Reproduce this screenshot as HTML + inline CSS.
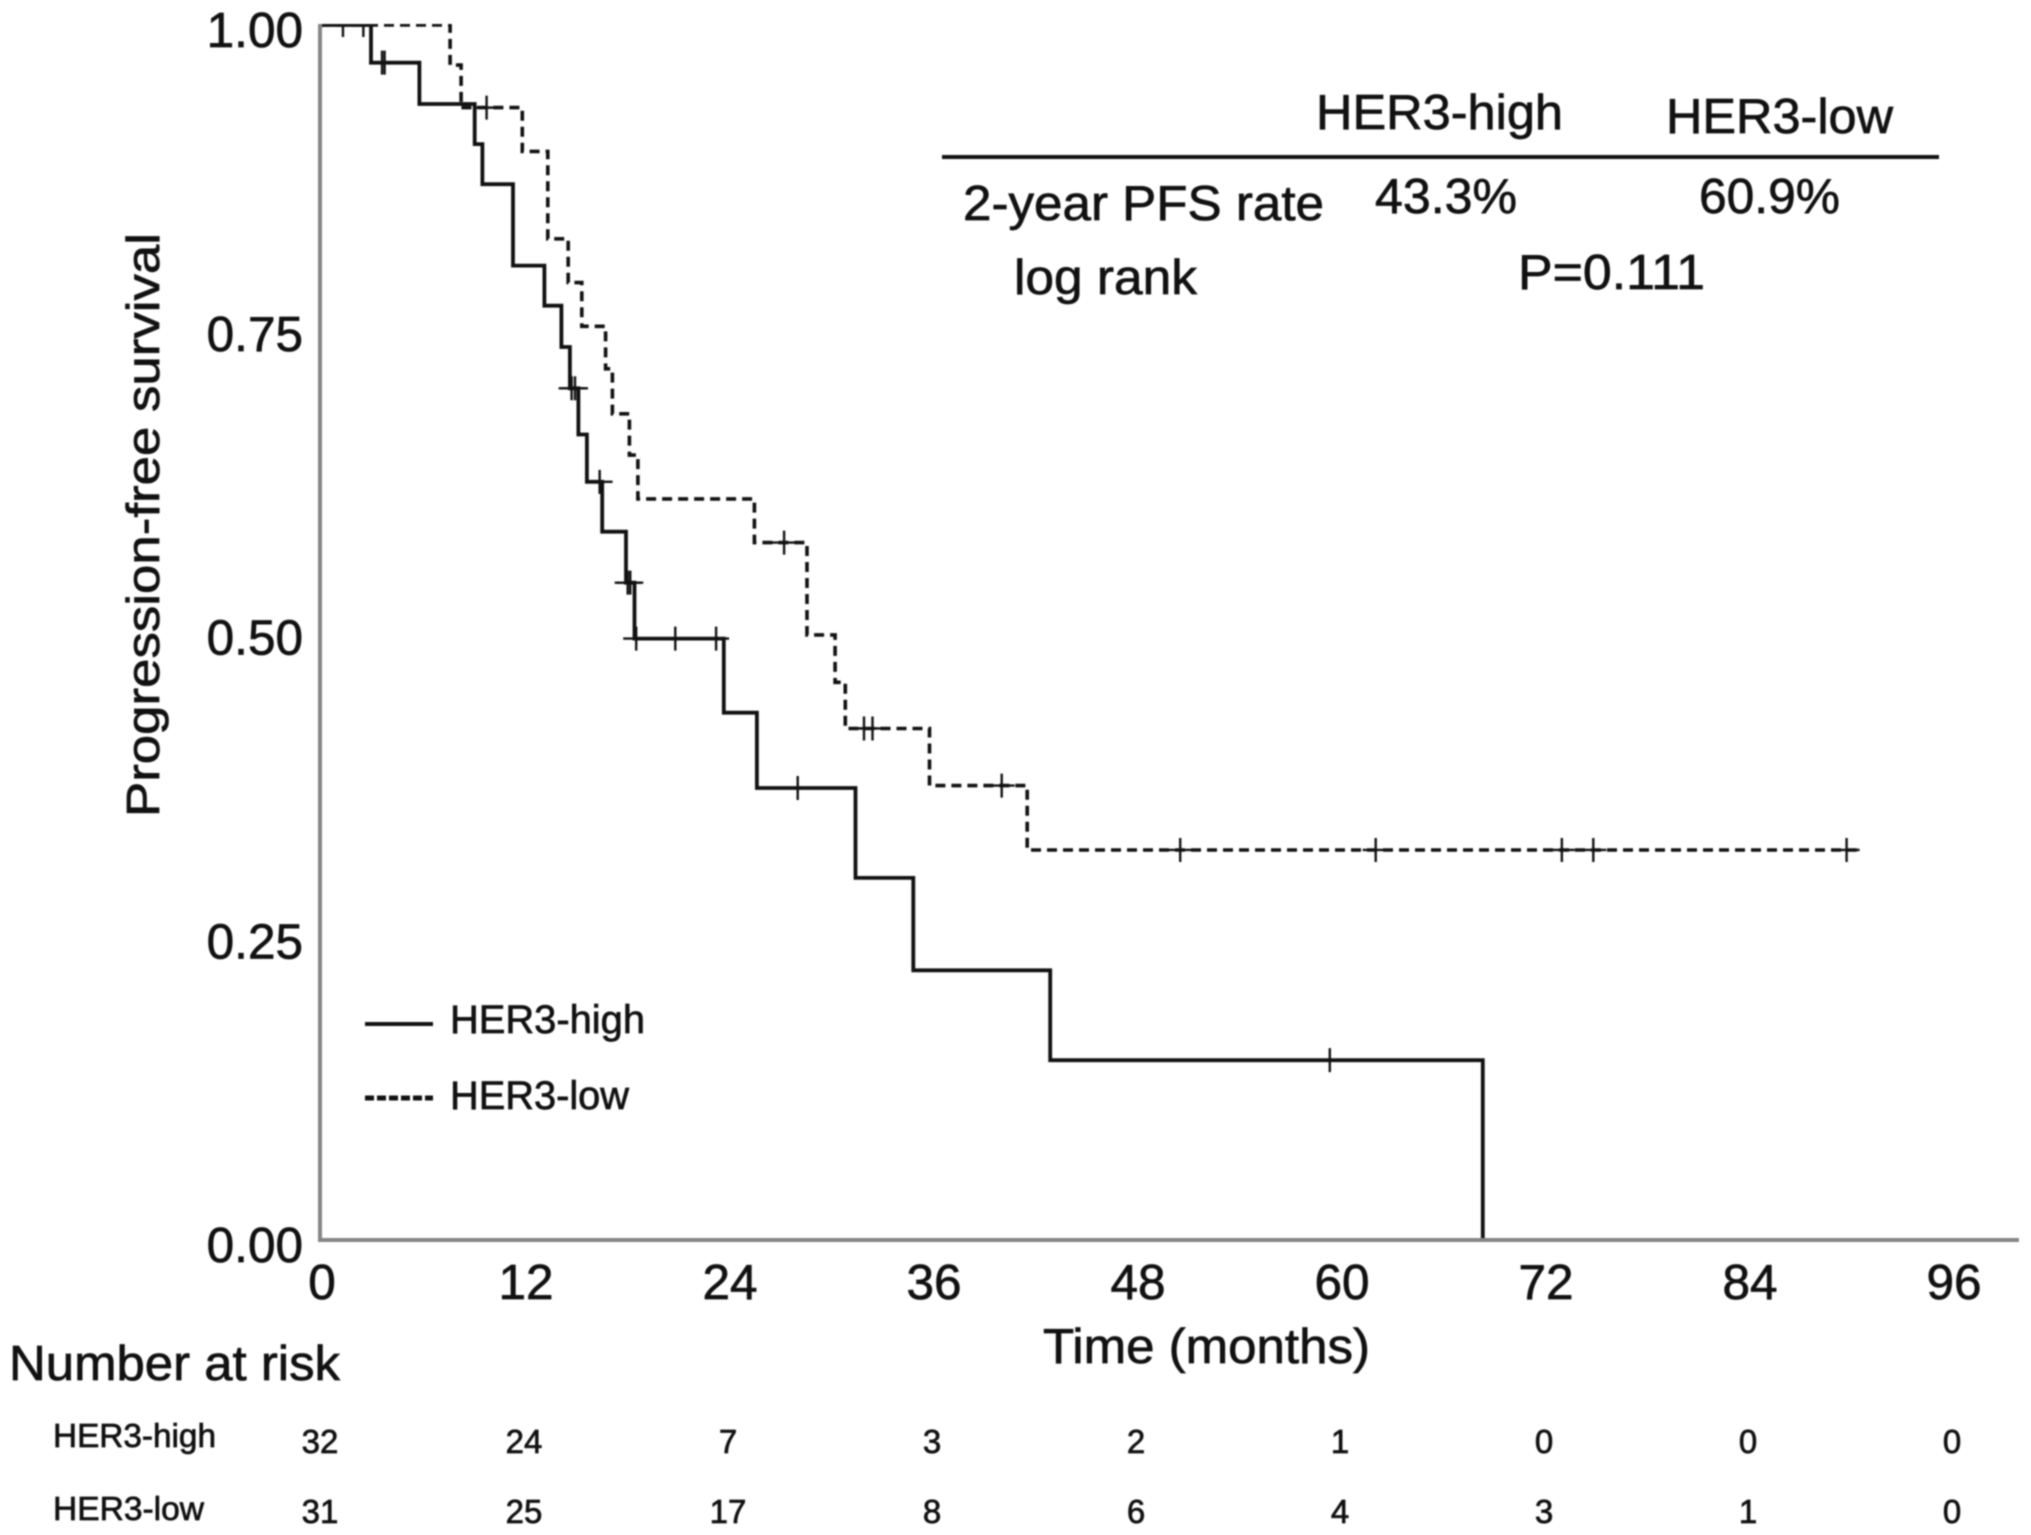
<!DOCTYPE html>
<html lang="en">
<head>
<meta charset="utf-8">
<title>Progression-free survival by HER3 status</title>
<style>
html,body{margin:0;padding:0;background:#fff;}
svg{display:block;filter:blur(0.7px);}
text{font-family:"Liberation Sans",Arial,sans-serif;fill:#111;stroke:#111;stroke-width:0.7px;}
</style>
</head>
<body>
<svg id="chart" xmlns="http://www.w3.org/2000/svg" width="2031" height="1535" viewBox="0 0 2031 1535">
  <rect x="0" y="0" width="2031" height="1535" fill="#fff"/>
  <defs><clipPath id="plot-clip"><rect x="318" y="24" width="1713" height="1220"/></clipPath></defs>
  <g id="series" clip-path="url(#plot-clip)"></g>
  <line x1="320" y1="24" x2="320" y2="1242" stroke="#858585" stroke-width="4"/>
  <line x1="318" y1="1240" x2="2019" y2="1240" stroke="#858585" stroke-width="4"/>
  <g id="yticks"></g>
  <g id="xticks"></g>
  <text transform="translate(159,817) rotate(-90)" font-size="46" textLength="584" lengthAdjust="spacingAndGlyphs">Progression-free survival</text>
  <text x="1043" y="1363" font-size="49" textLength="327" lengthAdjust="spacingAndGlyphs">Time (months)</text>

  <g>
    <line x1="365" y1="1024" x2="433" y2="1024" stroke="#111" stroke-width="4"/>
    <text x="450" y="1033" font-size="40" textLength="195" lengthAdjust="spacingAndGlyphs">HER3-high</text>
    <line x1="365" y1="1098" x2="433" y2="1098" stroke="#111" stroke-width="5" stroke-dasharray="9 3"/>
    <text x="450" y="1109" font-size="40" textLength="179" lengthAdjust="spacingAndGlyphs">HER3-low</text>
  </g>

  <g>
    <text x="1316" y="129" font-size="49" textLength="247" lengthAdjust="spacingAndGlyphs">HER3-high</text>
    <text x="1666" y="133" font-size="49" textLength="227" lengthAdjust="spacingAndGlyphs">HER3-low</text>
    <line x1="942" y1="157" x2="1939" y2="157" stroke="#111" stroke-width="4"/>
    <text x="963" y="220" font-size="49" textLength="361" lengthAdjust="spacingAndGlyphs">2-year PFS rate</text>
    <text x="1375" y="213" font-size="49" textLength="142" lengthAdjust="spacingAndGlyphs">43.3%</text>
    <text x="1699" y="213" font-size="49" textLength="141" lengthAdjust="spacingAndGlyphs">60.9%</text>
    <text x="1014" y="294" font-size="49" textLength="183" lengthAdjust="spacingAndGlyphs">log rank</text>
    <text x="1518" y="289" font-size="49" textLength="187" lengthAdjust="spacingAndGlyphs">P=0.111</text>
  </g>

  <g>
    <text x="9" y="1380" font-size="49" textLength="331" lengthAdjust="spacingAndGlyphs">Number at risk</text>
    <text x="53" y="1447" font-size="33" textLength="163" lengthAdjust="spacingAndGlyphs">HER3-high</text>
    <text x="53" y="1520" font-size="33" textLength="151" lengthAdjust="spacingAndGlyphs">HER3-low</text>
    <g id="riskrows"></g>
  </g>
</svg>
<script>
const xTickLabels = [0, 12, 24, 36, 48, 60, 72, 84, 96];
const yTickLabels = [0, 0.25, 0.5, 0.75, 1];

const highEventTimes = [3.0, 5.85, 9.1, 9.55, 11.35, 13.2, 14.2, 14.7, 15.2, 15.7, 16.6, 18.0, 18.5, 23.75, 25.7, 31.5, 34.9, 42.95, 68.4];
const highSurvival = [0.969, 0.935, 0.902, 0.869, 0.802, 0.769, 0.735, 0.701, 0.663, 0.624, 0.583, 0.541, 0.495, 0.434, 0.372, 0.298, 0.222, 0.148, 0];
const highEndTime = 68.4;
const highCensorTimes = [1.35, 2.55, 3.8, 3.65, 14.8, 15.0, 16.45, 18.1, 18.25, 18.6, 20.9, 23.3, 28.1, 59.4];

const lowEventTimes = [7.65, 8.3, 11.9, 13.4, 14.6, 15.4, 16.8, 17.2, 18.2, 18.7, 25.55, 28.65, 30.3, 30.9, 35.85, 41.6];
const lowSurvival = [0.967, 0.932, 0.896, 0.824, 0.788, 0.752, 0.717, 0.68, 0.646, 0.61, 0.574, 0.498, 0.459, 0.421, 0.374, 0.321];
const lowEndTime = 90.4;
const lowCensorTimes = [9.8, 27.3, 32.0, 32.5, 40.1, 50.6, 62.1, 73.05, 74.9, 89.8];

const riskTimes = [0, 12, 24, 36, 48, 60, 72, 84, 96];
const riskHigh = [32, 24, 7, 3, 2, 1, 0, 0, 0];
const riskLow = [31, 25, 17, 8, 6, 4, 3, 1, 0];

const NS = 'http://www.w3.org/2000/svg';
function xScale(t) { return 320 + t * 17; }
function yScale(s) { return 1240 - s * 1215; }
function labelX(t) { return 322 + t * 17; }

function survivalAt(times, surv, t) {
  let s = 1;
  for (let i = 0; i < times.length; i++) {
    if (times[i] <= t) { s = surv[i]; }
  }
  return s;
}
function stepPath(times, surv, end) {
  let d = 'M' + xScale(0) + ' ' + yScale(1);
  for (let i = 0; i < times.length; i++) {
    d += 'H' + xScale(times[i]).toFixed(1) + 'V' + yScale(surv[i]).toFixed(1);
  }
  d += 'H' + xScale(end).toFixed(1);
  return d;
}

const seriesGroup = document.getElementById('series');

const lowLine = document.createElementNS(NS, 'path');


lowLine.setAttribute('d', stepPath(lowEventTimes, lowSurvival, lowEndTime));
lowLine.setAttribute('fill', 'none');
lowLine.setAttribute('stroke', '#111');
lowLine.setAttribute('stroke-width', '3.6');
lowLine.setAttribute('stroke-dasharray', '10 6');
seriesGroup.appendChild(lowLine);

const highLine = document.createElementNS(NS, 'path');


highLine.setAttribute('d', stepPath(highEventTimes, highSurvival, highEndTime));
highLine.setAttribute('fill', 'none');
highLine.setAttribute('stroke', '#111');
highLine.setAttribute('stroke-width', '3.8');
seriesGroup.appendChild(highLine);

function censorMark(t, s, name) {
  const cx = xScale(t), cy = yScale(s);
  const mark = document.createElementNS(NS, 'path');
  
  
  mark.setAttribute('d', 'M' + (cx - 13) + ' ' + cy + 'H' + (cx + 13) + 'M' + cx + ' ' + (cy - 12) + 'V' + (cy + 12));
  mark.setAttribute('fill', 'none');
  mark.setAttribute('stroke', '#111');
  mark.setAttribute('stroke-width', '2.4');
  seriesGroup.appendChild(mark);
}
highCensorTimes.forEach(function (t) {
  censorMark(t, survivalAt(highEventTimes, highSurvival, t), 'her3-high-censor');
});
lowCensorTimes.forEach(function (t) {
  censorMark(t, survivalAt(lowEventTimes, lowSurvival, t), 'her3-low-censor');
});

const yTickGroup = document.getElementById('yticks');
yTickLabels.forEach(function (v) {
  const el = document.createElementNS(NS, 'text');
  
  
  el.setAttribute('x', 303);
  el.setAttribute('y', yScale(v) + 22);
  el.setAttribute('text-anchor', 'end');
  el.setAttribute('font-size', '49.5');
  el.textContent = v.toFixed(2);
  yTickGroup.appendChild(el);
});

const xTickGroup = document.getElementById('xticks');
xTickLabels.forEach(function (v) {
  const el = document.createElementNS(NS, 'text');
  
  
  el.setAttribute('x', labelX(v));
  el.setAttribute('y', 1299);
  el.setAttribute('text-anchor', 'middle');
  el.setAttribute('font-size', '49.5');
  el.textContent = v;
  xTickGroup.appendChild(el);
});

const riskGroup = document.getElementById('riskrows');
function riskRow(values, baseline, name) {
  values.forEach(function (v, i) {
    const el = document.createElementNS(NS, 'text');
    
    
    el.setAttribute('x', 320 + riskTimes[i] * 17);
    el.setAttribute('y', baseline);
    el.setAttribute('text-anchor', 'middle');
    el.setAttribute('font-size', '33');
    el.textContent = v;
    riskGroup.appendChild(el);
  });
}
riskRow(riskHigh, 1453, 'risk-count-high');
riskRow(riskLow, 1523, 'risk-count-low');
</script>
</body>
</html>
